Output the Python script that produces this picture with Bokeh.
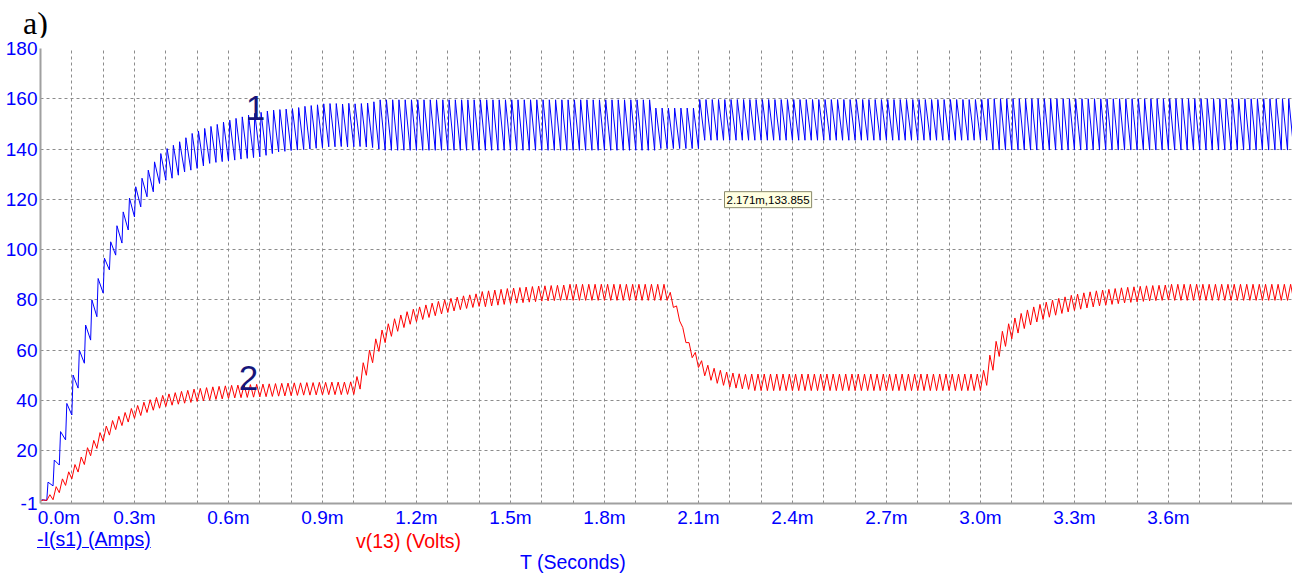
from bokeh.plotting import figure
from bokeh.models import Range1d, FixedTicker, Label, Div
from bokeh.layouts import column
from bokeh.embed import file_html
from bokeh.resources import INLINE

# ---------------- data ----------------
PERIOD_MS = 0.02        # ripple period (50 kHz) in ms
BLUE_RISE_MS = 0.004    # steep rising part of the current ripple
RED_PEAK_MS = 0.010     # peak position inside one voltage ripple cycle

# -I(s1) current: peak and end-of-cycle value for each ripple cycle
blue_hi = ([0.5, 7.5, 16.3, 27.6, 38.8, 50.1, 60.0, 70.0, 80.0, 88.5,
            96.6, 103.1, 109.5, 115.0, 120.5, 125.0, 128.4, 131.6, 134.9, 138.2,
            140.2, 141.5, 142.9, 144.5, 146.2, 147.2, 148.2, 149.0, 149.8, 150.7,
            151.5, 152.2, 152.8, 153.5, 154.2, 154.6, 155.1, 155.5, 155.7, 155.9,
            156.1, 156.5, 157.0, 157.3, 157.6, 158.0, 158.1, 158.1, 157.9, 158.2,
            158.0, 158.1, 158.3, 158.8]
           + [159.6] * 44 + [156.3] * 7 + [159.7] * 46 + [160.0] * 49)
blue_lo = ([0.2, 6.0, 14.3, 24.3, 34.2, 44.9, 54.8, 64.0, 73.3, 82.7,
            91.9, 97.8, 102.6, 107.8, 113.0, 117.0, 121.0, 123.0, 126.3, 127.6,
            128.4, 129.6, 130.9, 131.6, 132.3, 133.3, 134.3, 134.7, 135.0, 135.3,
            135.6, 136.0, 136.3, 136.6, 136.9, 137.5, 138.2, 138.9, 139.1, 139.4,
            139.6, 139.8, 140.0, 140.3, 140.5, 140.9, 140.9, 141.0, 140.8, 140.9,
            141.0, 140.8, 140.6, 140.0]
           + [139.5] * 44 + [140.2] * 7 + [143.5] * 46 + [139.6] * 49)

# v(13) voltage: peak and end-of-cycle value for each ripple cycle
red_hi = ([0.4, 2.5, 5.7, 8.8, 11.6, 14.5, 17.5, 21.2, 24.1, 27.2,
           29.8, 32.0, 33.7, 35.2, 36.8, 38.0, 39.3, 40.3, 41.2, 42.0,
           42.6, 43.1, 43.6, 44.0, 44.5, 44.8, 45.1, 45.4, 45.6, 45.8,
           46.0, 46.1, 46.2, 46.3, 46.4, 46.5, 46.6, 46.7, 46.8, 46.9,
           47.0, 47.0, 47.1, 47.1, 47.2, 47.2, 47.3, 47.3, 47.3, 47.4,
           49.5, 55.0, 60.0, 64.5, 68.0, 70.5, 72.5, 74.0, 75.3, 76.3,
           77.2, 78.0, 78.7, 79.4, 80.0, 80.6, 81.1, 81.6, 82.0, 82.4,
           83.3, 83.6, 83.9, 84.2, 84.5, 84.7, 84.9, 85.1, 85.3, 85.5,
           85.6, 85.7, 85.8, 85.9]
          + [86.2] * 16
          + [83.0, 77.6, 69.0, 63.0, 59.1, 55.8, 54.0, 52.8, 52.0, 51.3,
             50.9, 50.6, 50.4]
          + [50.5] * 37
          + [52.0, 58.0, 63.5, 67.5, 70.5, 72.8, 74.6, 76.0, 77.2, 78.2,
             79.1, 79.9, 80.6, 81.2, 81.8, 82.3, 82.8, 83.2, 83.6, 83.9,
             84.2, 84.5, 84.8, 85.0, 85.2, 85.4, 85.6, 85.7, 85.8, 85.9]
          + [86.2] * 20)
red_lo = ([0.2, 0.5, 3.3, 6.2, 8.8, 11.5, 14.5, 18.0, 20.9, 23.8,
           26.2, 28.4, 30.0, 31.4, 32.9, 34.0, 35.2, 36.1, 36.9, 37.6,
           38.1, 38.5, 38.9, 39.2, 39.6, 39.8, 40.1, 40.4, 40.6, 40.8,
           41.0, 41.1, 41.2, 41.3, 41.4, 41.5, 41.6, 41.7, 41.8, 41.9,
           42.0, 42.1, 42.1, 42.2, 42.2, 42.3, 42.3, 42.3, 42.4, 42.4,
           44.5, 50.0, 55.0, 59.5, 63.0, 65.5, 67.5, 69.0, 70.3, 71.3,
           72.2, 73.0, 73.7, 74.4, 75.0, 75.6, 76.1, 76.6, 77.0, 77.4,
           77.3, 77.6, 77.9, 78.2, 78.5, 78.7, 78.9, 79.1, 79.3, 79.5,
           79.6, 79.7, 79.8, 79.9]
          + [79.8] * 16
          + [77.0, 71.6, 63.0, 57.0, 53.1, 49.8, 48.0, 46.8, 46.0, 45.3,
             44.9, 44.6, 44.4]
          + [43.9] * 37
          + [46.0, 52.0, 57.5, 61.5, 64.5, 66.8, 68.6, 70.0, 71.2, 72.2,
             73.1, 73.9, 74.6, 75.2, 75.8, 76.3, 76.8, 77.2, 77.6, 77.9,
             78.2, 78.5, 78.8, 79.0, 79.2, 79.4, 79.6, 79.7, 79.8, 79.9]
          + [79.8] * 20)

x_ticks = [0.0, 0.3, 0.6, 0.9, 1.2, 1.5, 1.8, 2.1, 2.4, 2.7, 3.0, 3.3, 3.6]
x_tick_labels = ["\u00a0" * 7 + "0.0m", "0.3m", "0.6m", "0.9m", "1.2m", "1.5m", "1.8m",
                 "2.1m", "2.4m", "2.7m", "3.0m", "3.3m", "3.6m"]
y_ticks = [-1, 20, 40, 60, 80, 100, 120, 140, 160, 180]
y_tick_labels = ["-1", "20", "40", "60", "80", "100", "120", "140", "160", "180"]

# ---------------- build waveforms ----------------
t_blue, v_blue = [0.0], [0.0]
for k in range(len(blue_hi)):
    t_blue += [PERIOD_MS * k + BLUE_RISE_MS, PERIOD_MS * (k + 1)]
    v_blue += [blue_hi[k], blue_lo[k]]

t_red, v_red = [0.0], [0.0]
for k in range(len(red_hi)):
    t_red += [PERIOD_MS * k + RED_PEAK_MS, PERIOD_MS * (k + 1)]
    v_red += [red_hi[k], red_lo[k]]

# ---------------- layout (page pixels, page origin = canvas origin) ----------------
W = 1292
TOP_H, MAIN_H, BOT_H = 37, 493, 46          # 0..37, 37..530, 530..576
X_END = 3.996
Y0, Y1 = -1, 180
FRAME_L, FRAME_R, FRAME_T, FRAME_B = 40, 1292, 48, 504

def tx(px):
    return (px - FRAME_L) * X_END / (FRAME_R - FRAME_L)

def ty(py):
    return Y1 - (py - FRAME_T) * (Y1 - Y0) / (FRAME_B - FRAME_T)

FONT = "Liberation Sans"
BLUE = "#0000ff"
RED = "#ff0000"

# top strip: panel letter (HTML text)
top = Div(text=('<div style="position:relative;width:%dpx;height:%dpx;overflow:visible">'
                '<span style="position:absolute;left:23px;top:11px;line-height:24px;'
                'font-family:\'Liberation Serif\';font-size:32px;color:#000;white-space:nowrap">a)</span>'
                '</div>') % (W, TOP_H),
          width=W, height=TOP_H, margin=(0, 0, 0, 0))

# main plot
p = figure(width=W, height=MAIN_H, x_range=Range1d(0, X_END), y_range=Range1d(Y0, Y1),
           output_backend="svg", toolbar_location=None,
           min_border_left=FRAME_L, min_border_right=W - FRAME_R,
           min_border_top=FRAME_T - TOP_H, min_border_bottom=(TOP_H + MAIN_H) - FRAME_B)
p.outline_line_color = None
p.background_fill_color = "white"

p.xaxis.ticker = FixedTicker(ticks=x_ticks)
p.xaxis.major_label_overrides = dict(zip(x_ticks, x_tick_labels))
p.yaxis.ticker = FixedTicker(ticks=y_ticks)
p.yaxis.major_label_overrides = dict(zip(y_ticks, y_tick_labels))
for ax in (p.xaxis, p.yaxis):
    ax.major_tick_line_color = None
    ax.minor_tick_line_color = None
    ax.major_tick_out = 0
    ax.major_tick_in = 0
    ax.axis_line_color = "#a0a0a0"
    ax.axis_line_width = 2
    ax.major_label_text_color = BLUE
    ax.major_label_text_font = FONT
    ax.major_label_text_font_size = "19px"
p.xaxis.major_label_standoff = 3
p.yaxis.major_label_standoff = 3

p.xgrid.ticker = FixedTicker(ticks=[round(0.1 * i, 1) for i in range(1, 40)])
p.ygrid.ticker = FixedTicker(ticks=y_ticks)
for g in (p.xgrid, p.ygrid):
    g.grid_line_color = "#8c8c8c"
    g.grid_line_dash = "3 3"
    g.grid_line_width = 1

p.line(t_blue, v_blue, line_color=BLUE, line_width=1)
p.line(t_red, v_red, line_color=RED, line_width=1)

# curve numbers
p.add_layout(Label(x=tx(255), y=ty(108), text="1", text_align="center", text_baseline="alphabetic",
                   text_font=FONT, text_font_size="35px", text_color="#16167a"))
p.add_layout(Label(x=tx(248), y=ty(378), text="2", text_align="center", text_baseline="alphabetic",
                   text_font=FONT, text_font_size="35px", text_color="#16167a"))

# cursor tooltip
p.add_layout(Label(x=tx(724), y=ty(199.5), text="2.171m,133.855", text_align="left",
                   text_baseline="middle", text_font=FONT, text_font_size="11.5px",
                   text_color="black", background_fill_color="#ffffe1",
                   border_line_color="#8a8a6a", border_line_width=1, padding=2))

# bottom strip: trace names and time axis name (HTML text)
def span(left, top_px, color, text, extra=""):
    return ('<span style="position:absolute;left:%dpx;top:%.1fpx;line-height:19px;'
            'font-family:\'Liberation Sans\';font-size:19.5px;color:%s;white-space:nowrap;%s">%s</span>'
            % (left, top_px, color, extra, text))

bot = Div(text=('<div style="position:relative;width:%dpx;height:%dpx;overflow:visible">' % (W, BOT_H)
                + span(37, 0, BLUE, "-I(s1) (Amps)", "text-decoration:underline")
                + span(356, 2, RED, "v(13) (Volts)")
                + span(520, 23, BLUE, "T (Seconds)")
                + '</div>'),
          width=W, height=BOT_H, margin=(0, 0, 0, 0))

layout = column(top, p, bot, spacing=0)
open("out.html", "w").write(file_html(layout, INLINE))
